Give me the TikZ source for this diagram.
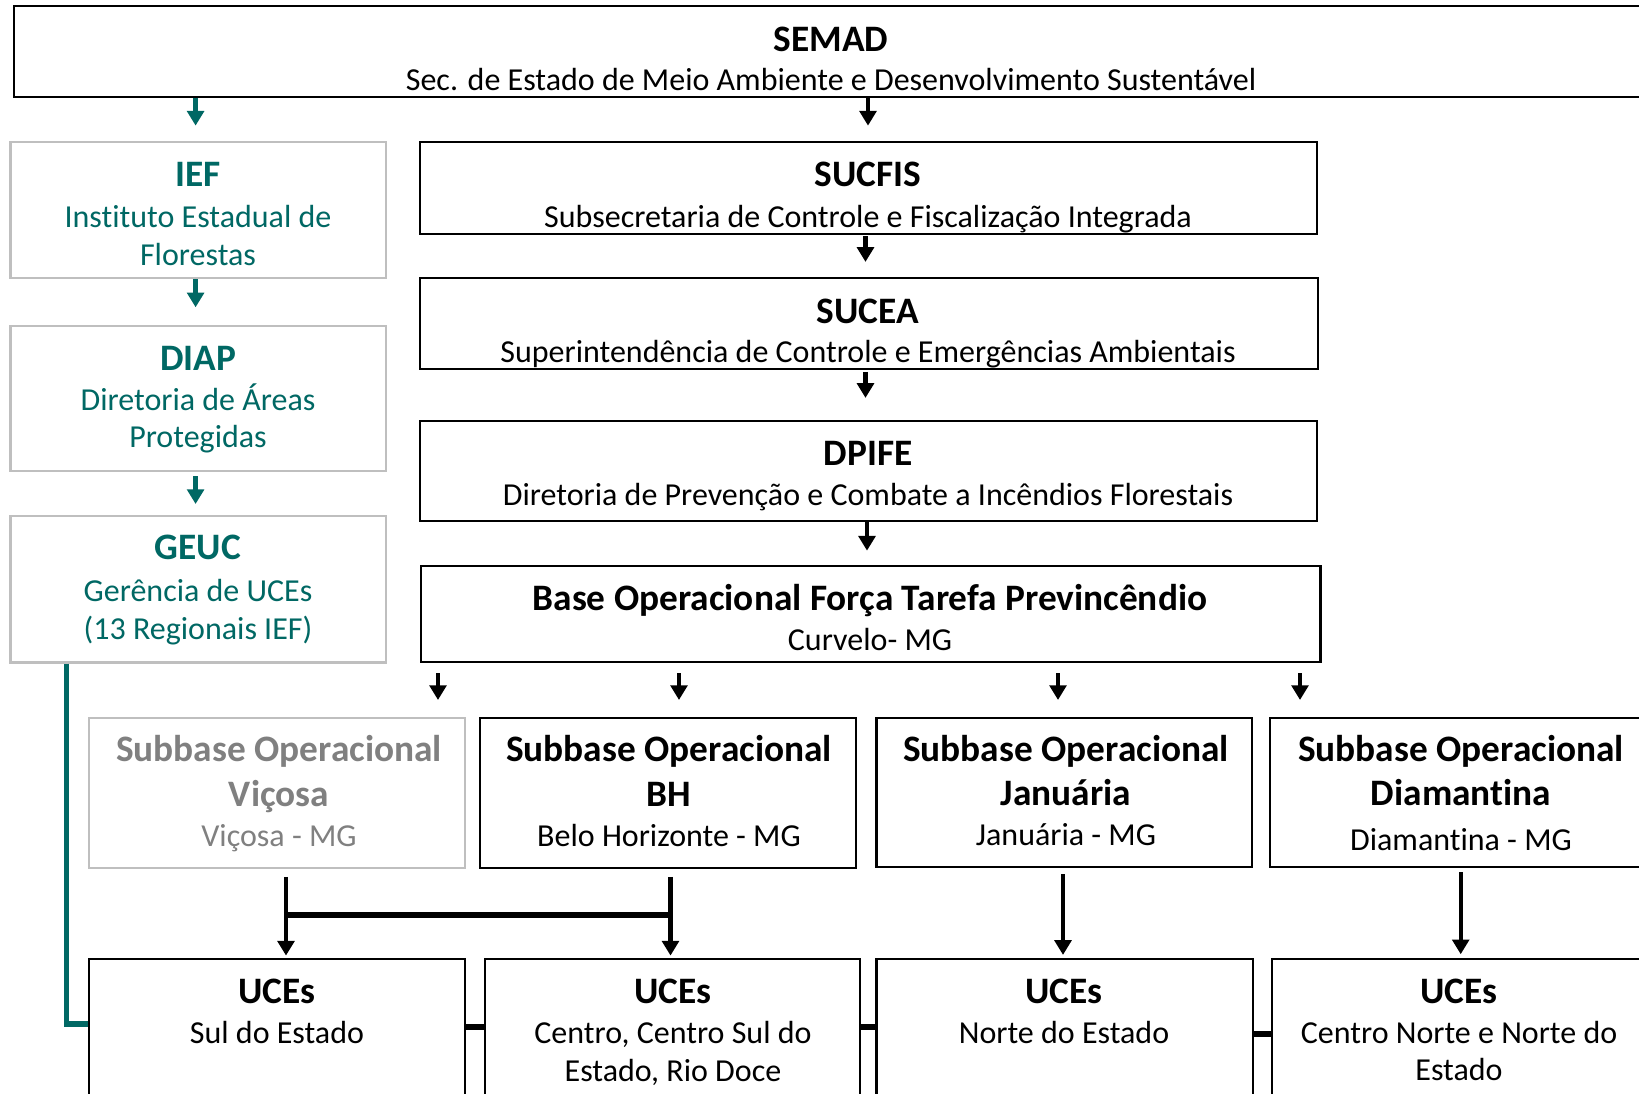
\documentclass[tikz,border=0pt]{standalone}
\usepackage{fontspec}
\setmainfont{Carlito}[Ligatures=NoCommon]
\usetikzlibrary{arrows.meta,fit}
\definecolor{tealc}{RGB}{0,104,100}
\definecolor{grayline}{RGB}{191,191,191}
\definecolor{graytext}{RGB}{128,128,128}
\begin{document}
\begin{tikzpicture}[x=0.75pt,y=-0.75pt,
  bbox/.style={draw=black,line width=1.6pt,inner sep=0pt},
  gbox/.style={draw=grayline,line width=1.6pt,inner sep=0pt},
  ttl/.style={font=\fontsize{28}{33}\selectfont\bfseries,anchor=base,inner sep=0pt},
  sub/.style={font=\fontsize{24}{29}\selectfont,anchor=base,inner sep=0pt},
  arr/.style={-{Triangle[width=12.5pt,length=11pt]},line width=3.2pt},
  tarr/.style={arr,color=tealc},
  bar/.style={line width=5pt},
]
\path[use as bounding box,fill=white] (0,0) rectangle (1639,1093);
\clip (0,0) rectangle (1639,1093);

% boxes
\node[bbox,fit={(14,6.3) (1660,97)}] (semad) {};
\node[gbox,fit={(10.5,142.3) (386,277.7)}] (ief) {};
\node[gbox,fit={(10.5,325.7) (386,470.7)}] (diap) {};
\node[gbox,fit={(10.5,516) (386,662.5)}] (geuc) {};
\node[bbox,fit={(420,142.3) (1317,234)}] (sucfis) {};
\node[bbox,fit={(420,278.3) (1318.4,369.2)}] (sucea) {};
\node[bbox,fit={(420,420.7) (1317,521)}] (dpife) {};
\node[bbox,fit={(421,565.7) (1320.5,662.3)}] (base) {};
\node[gbox,fit={(89.4,717.7) (465,867.7)}] (vic) {};
\node[bbox,fit={(479.6,717.7) (855.6,867.7)}] (bh) {};
\node[bbox,fit={(876.5,717.7) (1252,867.3)}] (jan) {};
\node[bbox,fit={(1270,717.7) (1652,867.3)}] (dia) {};
\node[bbox,fit={(89.4,959.3) (465,1120)}] (u1) {};
\node[bbox,fit={(485.4,959.3) (860.3,1120)}] (u2) {};
\node[bbox,fit={(876.5,959.3) (1253,1120)}] (u3) {};
\node[bbox,fit={(1272,959.3) (1652,1120)}] (u4) {};

% texts
\node[ttl] (semadT) at (831,51.7) {SEMAD};
\node[sub] (semadS) at (831,90.7) {Sec. de Estado de Meio Ambiente e Desenvolvimento Sustentável};
\node[ttl] (sucfisT) at (868,186.7) {SUCFIS};
\node[sub] (sucfisS) at (868,227.7) {Subsecretaria de Controle e Fiscalização Integrada};
\node[ttl] (suceaT) at (868,323.3) {SUCEA};
\node[sub] (suceaS) at (868,362.3) {Superintendência de Controle e Emergências Ambientais};
\node[ttl] (dpifeT) at (868,465) {DPIFE};
\node[sub] (dpifeS) at (868,505) {Diretoria de Prevenção e Combate a Incêndios Florestais};
\node[ttl] (baseT) at (870,610) {Base Operacional Força Tarefa Previncêndio};
\node[sub] (baseS) at (870,650) {Curvelo- MG};

\node[ttl,text=tealc] (iefT) at (198,186.7) {IEF};
\node[sub,text=tealc] (iefS1) at (198,227.3) {Instituto Estadual de};
\node[sub,text=tealc] (iefS2) at (198,265) {Florestas};
\node[ttl,text=tealc] (diapT) at (198,370) {DIAP};
\node[sub,text=tealc] (diapS1) at (198,410) {Diretoria de Áreas};
\node[sub,text=tealc] (diapS2) at (198,447.7) {Protegidas};
\node[ttl,text=tealc] (geucT) at (198,559.3) {GEUC};
\node[sub,text=tealc] (geucS1) at (198,601.7) {Gerência de UCEs};
\node[sub,text=tealc] (geucS2) at (198,639.3) {(13 Regionais IEF)};

\node[ttl,text=graytext] (vicT1) at (279,761.7) {Subbase Operacional};
\node[ttl,text=graytext] (vicT2) at (279,806.7) {Viçosa};
\node[sub,text=graytext] (vicS) at (279,846.7) {Viçosa - MG};
\node[ttl] (bhT1) at (669,761.7) {Subbase Operacional};
\node[ttl] (bhT2) at (669,806.7) {BH};
\node[sub] (bhS) at (669,846.7) {Belo Horizonte - MG};
\node[ttl] (janT1) at (1066,761) {Subbase Operacional};
\node[ttl] (janT2) at (1066,805) {Januária};
\node[sub] (janS) at (1066,845) {Januária - MG};
\node[ttl] (diaT1) at (1461,761) {Subbase Operacional};
\node[ttl] (diaT2) at (1461,805) {Diamantina};
\node[sub] (diaS) at (1461,850) {Diamantina - MG};

\node[ttl] (u1T) at (277,1003.3) {UCEs};
\node[sub] (u1S) at (277,1043.3) {Sul do Estado};
\node[ttl] (u2T) at (673,1003.3) {UCEs};
\node[sub] (u2S1) at (673,1043.3) {Centro, Centro Sul do};
\node[sub] (u2S2) at (673,1081.7) {Estado, Rio Doce};
\node[ttl] (u3T) at (1064,1003.3) {UCEs};
\node[sub] (u3S) at (1064,1043.3) {Norte do Estado};
\node[ttl] (u4T) at (1459,1003.3) {UCEs};
\node[sub] (u4S1) at (1459,1043.3) {Centro Norte e Norte do};
\node[sub] (u4S2) at (1459,1080) {Estado};

% helper coordinates
\coordinate (xa) at (195.6,0);
\coordinate (xb) at (868,0);
\coordinate (xc) at (865.5,0);
\coordinate (xd) at (867,0);
\coordinate (b1) at (438,0);
\coordinate (b2) at (679,0);
\coordinate (b3) at (1058,0);
\coordinate (b4) at (1300,0);
\coordinate (v1) at (286,0);
\coordinate (v2) at (670.5,0);
\coordinate (v3) at (1063,0);
\coordinate (v4) at (1460.7,0);
\coordinate (hb) at (0,915);
\coordinate (s1) at (0,1027);
\coordinate (s2) at (0,1027);
\coordinate (s3) at (0,1034);
\coordinate (tl) at (66.4,1024);

% teal connectors
\draw[tarr,shorten >=11.7pt] (semad.south -| xa) -- (ief.north -| xa);
\draw[tarr,shorten <=0.4pt,shorten >=13pt] (ief.south -| xa) -- (diap.north -| xa);
\draw[tarr,shorten <=3.2pt,shorten >=8.2pt] (diap.south -| xa) -- (geuc.north -| xa);
\draw[line width=4.3pt,color=tealc] (geuc.south -| tl) |- (u1.west |- tl);

% black vertical chain
\draw[arr,shorten >=11.7pt] (semad.south -| xb) -- (sucfis.north -| xb);
\draw[arr,shorten <=0.8pt,shorten >=11.5pt] (sucfis.south -| xc) -- (sucea.north -| xc);
\draw[arr,shorten <=1.2pt,shorten >=16.3pt] (sucea.south -| xc) -- (dpife.north -| xc);
\draw[arr,shorten >=10.5pt] (dpife.south -| xd) -- (base.north -| xd);

% base to subbases
\draw[arr,shorten <=7.3pt,shorten >=12.5pt] (base.south -| b1) -- (vic.north -| b1);
\draw[arr,shorten <=7.3pt,shorten >=12.5pt] (base.south -| b2) -- (bh.north -| b2);
\draw[arr,shorten <=7.3pt,shorten >=12.5pt] (base.south -| b3) -- (jan.north -| b3);
\draw[arr,shorten <=7.3pt,shorten >=12.5pt] (base.south -| b4) -- (dia.north -| b4);

% subbases to UCEs
\draw[arr,shorten <=6pt,shorten >=2pt] (vic.south -| v1) -- (u1.north -| v1);
\draw[arr,shorten <=6pt,shorten >=2pt] (bh.south -| v2) -- (u2.north -| v2);
\draw[bar] (v1 |- hb) -- (v2 |- hb);
\draw[arr,shorten <=4.3pt,shorten >=2.5pt] (jan.south -| v3) -- (u3.north -| v3);
\draw[arr,shorten <=3pt,shorten >=3pt] (dia.south -| v4) -- (u4.north -| v4);

% stubs between UCEs
\draw[line width=5pt] (u1.east |- s1) -- (u2.west |- s1);
\draw[line width=5pt] (u2.east |- s2) -- (u3.west |- s2);
\draw[line width=5pt] (u3.east |- s3) -- (u4.west |- s3);
\end{tikzpicture}
\end{document}
